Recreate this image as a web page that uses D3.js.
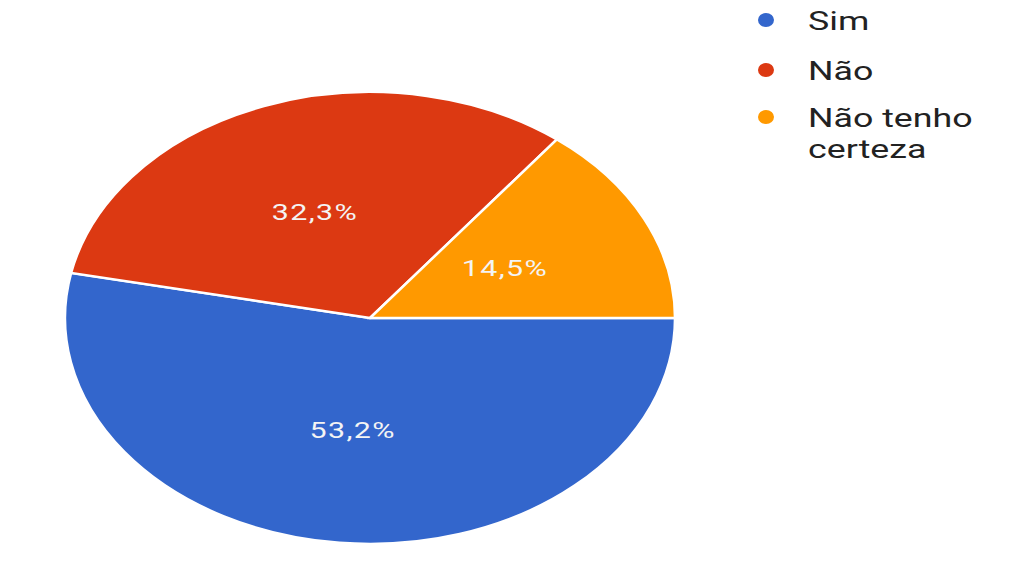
<!DOCTYPE html>
<html><head><meta charset="utf-8">
<script src="https://cdn.jsdelivr.net/npm/d3@7"></script>
<style>body{margin:0;background:#fff;}svg{display:block;}</style>
</head><body>
<svg id="chart" width="1024" height="584"></svg>
<script>
const categories = ["Sim", "Não", "Não tenho certeza"];
const values = [53.2, 32.3, 14.5];
const valueLabels = ["53,2%", "32,3%", "14,5%"];
const legendLines = [["Sim"], ["Não"], ["Não tenho", "certeza"]];
const colors = ["#3366cc", "#dc3912", "#ff9900"];

const svg = d3.select("#chart");
const cx = 370, cy = 318, rx = 305, ry = 226, R = 100;

const pie = d3.pie().sort(null).value(d => d).startAngle(Math.PI / 2).endAngle(Math.PI / 2 + 2 * Math.PI);
const arcs = pie(values);
const arc = d3.arc().innerRadius(0).outerRadius(R);
const labelArc = d3.arc().innerRadius(R * 0.5).outerRadius(R * 0.5);

const g = svg.append("g").attr("transform", `translate(${cx},${cy}) scale(${rx / R},${ry / R})`);
g.selectAll("path").data(arcs).join("path")
  .attr("d", arc)
  .attr("fill", (d, i) => colors[i])
  .attr("stroke", "#fff")
  .attr("stroke-width", 2.5)
  .attr("vector-effect", "non-scaling-stroke");

const lab = svg.append("g");
arcs.forEach((d, i) => {
  const [x, y] = labelArc.centroid(d);
  lab.append("text")
    .attr("transform", `translate(${cx + x * rx / R - 2},${cy + y * ry / R}) scale(1.38,1)`)
    .attr("text-anchor", "middle")
    .attr("dy", "0.35em")
    .attr("font-family", "Roboto, Arial, sans-serif")
    .attr("font-size", 22)
    .attr("letter-spacing", 1)
    .attr("fill", "#f4f4f4")
    .text(valueLabels[i]);
});

const leg = svg.append("g");
const dotY = [20, 70, 117];
categories.forEach((c, i) => {
  leg.append("ellipse").attr("cx", 766).attr("cy", dotY[i]).attr("rx", 8).attr("ry", 7).attr("fill", colors[i]);
  legendLines[i].forEach((t, j) => {
    leg.append("text")
      .attr("transform", `translate(808,${dotY[i] + 10 + j * 31}) scale(1.43,1)`)
      .attr("font-family", "Roboto, Arial, sans-serif")
      .attr("font-size", 25)
      .attr("fill", "#222")
      .text(t);
  });
});
</script>
</body></html>
